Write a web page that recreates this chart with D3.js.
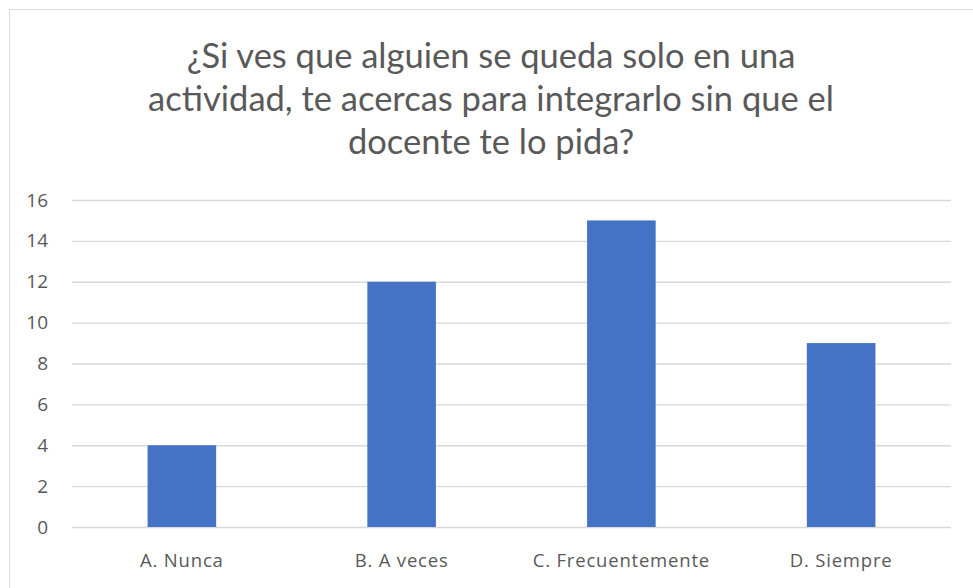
<!DOCTYPE html>
<html>
<head>
<meta charset="utf-8">
<script src="https://cdn.jsdelivr.net/npm/d3@7"></script>
<style>
  body { margin: 0; background: #fff; }
  svg { display: block; }
</style>
</head>
<body>
<svg id="chart"></svg>
<script>
let categories = ["A. Nunca", "B. A veces", "C. Frecuentemente", "D. Siempre"];
let values = [4, 12, 15, 9];
let yTicks = [0, 2, 4, 6, 8, 10, 12, 14, 16];
let titleLines = [
    "¿Si ves que alguien se queda solo en una",
    "actividad, te acercas para integrarlo sin que el",
    "docente te lo pida?"
];

function chartConfig(){
    let width = 973;
    let height = 588;
    let margin = {top: 200, bottom: 61, left: 72, right: 22};
    let bodyWidth = width - margin.left - margin.right;
    let bodyHeight = height - margin.top - margin.bottom;
    let container = d3.select("#chart")
        .attr("width", width)
        .attr("height", height);
    return {width, height, margin, bodyWidth, bodyHeight, container};
}

function chartScales(config){
    let {bodyWidth, bodyHeight} = config;
    let xScale = d3.scaleBand().range([0, bodyWidth]).domain(categories);
    let yScale = d3.scaleLinear().range([bodyHeight, 0]).domain([0, 16]);
    return {xScale, yScale};
}

function drawChart(){
    let config = chartConfig();
    let {margin, container, bodyWidth, bodyHeight, width, height} = config;
    let {xScale, yScale} = chartScales(config);

    // chart frame
    container.append("rect")
        .attr("x", 9.5).attr("y", 9.5)
        .attr("width", width + 20).attr("height", height + 20)
        .attr("fill", "#fff")
        .attr("stroke", "#d9d9d9");

    // title
    container.append("text")
        .attr("x", 491)
        .attr("y", 68)
        .attr("text-anchor", "middle")
        .style("font-family", "Lato, sans-serif")
        .style("font-size", "34.5px")
        .attr("fill", "#595959")
        .selectAll("tspan")
        .data(titleLines)
        .enter().append("tspan")
        .attr("x", 491)
        .attr("dy", (d, i) => i == 0 ? 0 : 43)
        .text(d => d);

    let body = container.append("g")
        .attr("transform", `translate(${margin.left},${margin.top})`);

    // gridlines + y labels
    let yAxis = d3.axisLeft(yScale).tickValues(yTicks)
        .tickSize(-bodyWidth).tickPadding(24);
    let yG = body.append("g").call(yAxis);
    yG.select(".domain").remove();
    yG.selectAll(".tick line").attr("stroke", "#d9d9d9").attr("stroke-width", 1.3);
    yG.selectAll(".tick text")
        .attr("fill", "#595959")
        .style("font-family", "'Open Sans', sans-serif")
        .style("font-size", "19px");

    // x labels
    let xAxis = d3.axisBottom(xScale).tickSize(0).tickPadding(27);
    let xG = body.append("g")
        .attr("transform", `translate(0,${bodyHeight})`)
        .call(xAxis);
    xG.select(".domain").remove();
    xG.selectAll(".tick text")
        .attr("fill", "#595959")
        .style("font-family", "'Open Sans', sans-serif")
        .style("font-size", "18.5px")
        .style("letter-spacing", "0.8px");

    // bars
    let barWidth = xScale.bandwidth() * 0.312;
    body.selectAll(".bar").data(values)
        .enter().append("rect")
        .attr("class", "bar")
        .attr("x", (d, i) => xScale(categories[i]) + (xScale.bandwidth() - barWidth) / 2)
        .attr("y", d => yScale(d))
        .attr("width", barWidth)
        .attr("height", d => bodyHeight - yScale(d))
        .attr("fill", "#4472c4");
}

drawChart();
</script>
</body>
</html>
